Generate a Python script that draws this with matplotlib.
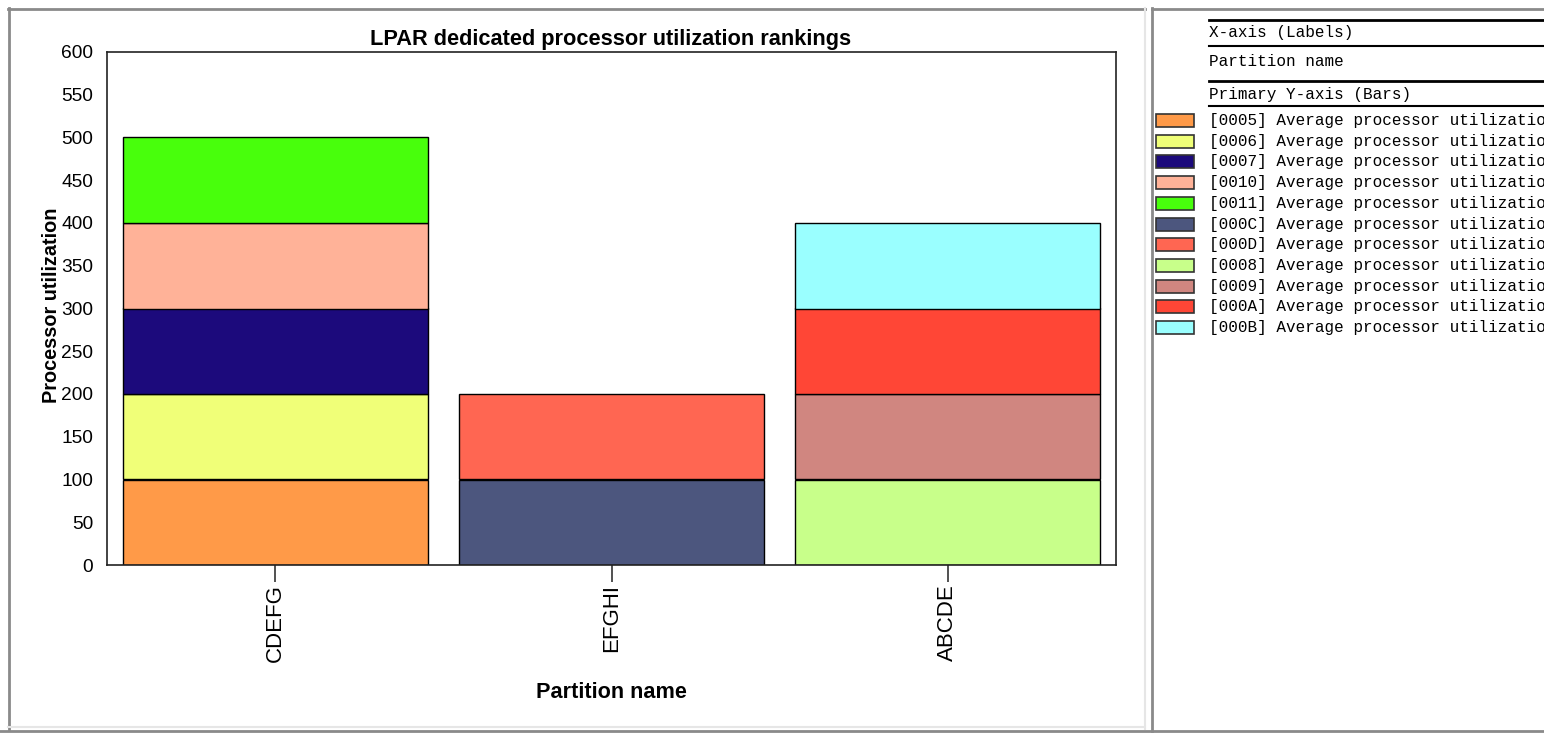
import numpy as np
import matplotlib
matplotlib.use("Agg")
import matplotlib.pyplot as plt
from matplotlib.patches import Rectangle
from matplotlib.lines import Line2D

W, H = 1544, 735

# ── data ─────────────────────────────────────────────────────────────
partitions = ["CDEFG", "EFGHI", "ABCDE"]
series_ids = ["0005", "0006", "0007", "0010", "0011",
              "000C", "000D",
              "0008", "0009", "000A", "000B"]
series_values = [
    [100, 0, 0],
    [100, 0, 0],
    [100, 0, 0],
    [100, 0, 0],
    [100, 0, 0],
    [0, 100, 0],
    [0, 100, 0],
    [0, 0, 100],
    [0, 0, 100],
    [0, 0, 100],
    [0, 0, 100],
]
series_colors = ["#FF9A48", "#F0FF78", "#1C0A7C", "#FFB298", "#48FF0C",
                 "#4C567E", "#FF6652",
                 "#C8FF8A", "#D08680", "#FF4636", "#9AFFFF"]
y_ticks = list(range(0, 601, 50))

plt.rcParams["font.family"] = ["Liberation Sans", "DejaVu Sans"]
fig = plt.figure(figsize=(W / 100, H / 100), dpi=100)


def fx(x):
    return x / W


def fy(y):
    return 1 - y / H


def hline(x0, x1, y, color="black", lw=1.5):
    fig.add_artist(Line2D([fx(x0), fx(x1)], [fy(y), fy(y)], color=color, lw=lw,
                          transform=fig.transFigure))


def vline(x, y0, y1, color="black", lw=1.5):
    fig.add_artist(Line2D([fx(x), fx(x)], [fy(y0), fy(y1)], color=color, lw=lw,
                          transform=fig.transFigure))


# ── panel borders ────────────────────────────────────────────────────
vline(8.5, 8, 729, color="#8a8a8a", lw=2)
hline(8, 1145, 8.5, color="#8a8a8a", lw=2)
vline(1144.5, 8, 729, color="#e6e6e6", lw=1.5)
hline(8, 1145, 727, color="#e6e6e6", lw=1.5)
vline(1152, 8, 731, color="#8a8a8a", lw=2)
hline(1152, W, 8.5, color="#8a8a8a", lw=2)
hline(0, W, 731, color="#8a8a8a", lw=2)

# ── chart ────────────────────────────────────────────────────────────
ax = fig.add_axes([fx(107), fy(565), fx(1116) - fx(107), fy(52) - fy(565)])
x = np.arange(len(partitions))
bottom = np.zeros(len(partitions))
for sid, vals, col in zip(series_ids, series_values, series_colors):
    vals = np.array(vals, dtype=float)
    mask = vals > 0
    ax.bar(x[mask], vals[mask], bottom=bottom[mask], width=0.907,
           color=col, edgecolor="black", linewidth=1.0)
    bottom += vals

ax.set_xlim(-0.5, 2.5)
ax.set_ylim(0, 600)
ax.set_yticks(y_ticks)
ax.set_xticks(x)
ax.set_xticklabels(partitions, rotation=90, fontsize=16)
ax.tick_params(axis="y", length=0, pad=10, labelsize=13.8)
ax.tick_params(axis="x", length=12, width=1.2, direction="out", pad=2,
               color="#333333")
for s in ax.spines.values():
    s.set_linewidth(1.2)
    s.set_color("#222222")

fig.text(fx(611), fy(40), "LPAR dedicated processor utilization rankings",
         fontsize=15.7, fontweight="bold", ha="center", va="center")
fig.text(fx(52), fy(305), "Processor utilization", fontsize=14.3,
         fontweight="bold", rotation=90, ha="center", va="center")
fig.text(fx(611), fy(693), "Partition name", fontsize=15.6,
         fontweight="bold", ha="center", va="center")

# ── legend panel ─────────────────────────────────────────────────────
mono = "Liberation Mono"
fs = 11.5
tx = 1209
hline(tx, W, 20, lw=2)
fig.text(fx(tx), fy(33), "X-axis (Labels)", family=mono, fontsize=fs,
         va="center", ha="left")
hline(tx, W, 46, lw=1.5)
fig.text(fx(tx), fy(61), "Partition name", family=mono, fontsize=fs,
         va="center", ha="left")
hline(tx, W, 81, lw=2)
fig.text(fx(tx), fy(94), "Primary Y-axis (Bars)", family=mono, fontsize=fs,
         va="center", ha="left")
hline(tx, W, 105.5, lw=1.5)

for i, (sid, col) in enumerate(zip(series_ids, series_colors)):
    yc = 120.5 + i * 20.7
    fig.add_artist(Rectangle((fx(1156), fy(yc + 6.5)), fx(38), 13 / H,
                             facecolor=col, edgecolor="#333333", lw=1.2,
                             transform=fig.transFigure))
    fig.text(fx(tx), fy(yc), f"[{sid}] Average processor utilization",
             family=mono, fontsize=fs, va="center", ha="left")

fig.savefig("out.png", dpi=100)
